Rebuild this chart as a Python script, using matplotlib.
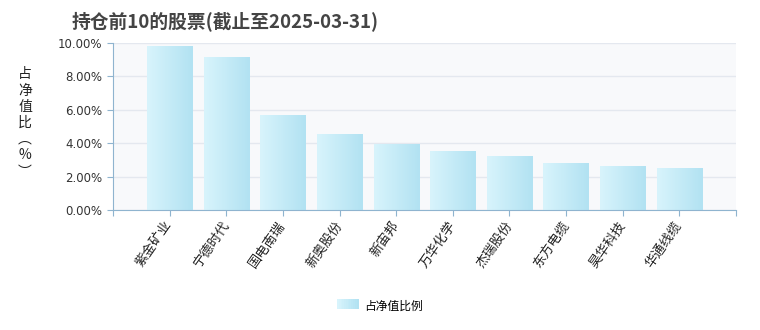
import matplotlib
matplotlib.use('Agg')
import matplotlib.pyplot as plt
import matplotlib.transforms as mtransforms
import numpy as np
from matplotlib.colors import LinearSegmentedColormap
from matplotlib.patches import Rectangle
from matplotlib.legend_handler import HandlerBase

plt.rcParams['font.family'] = ['Noto Sans CJK SC', 'DejaVu Sans']

# ------ data ------
stocks = ['紫金矿业', '宁德时代', '国电南瑞', '新奥股份', '新宙邦',
          '万华化学', '杰瑞股份', '东方电缆', '昊华科技', '华通线缆']
ratio = [9.82, 9.16, 5.63, 4.55, 3.95, 3.53, 3.23, 2.81, 2.63, 2.51]

grad = LinearSegmentedColormap.from_list('g', ['#d8f4fc', '#b2e2f2'])
axis_col = '#8fb4cf'

fig = plt.figure(figsize=(7.6, 3.3), dpi=100)
ax = fig.add_axes([113/760, 1 - 210/330, 623/760, 167/330])
ax.set_facecolor('#f8f9fb')

x = np.arange(len(stocks))
bars = ax.bar(x, ratio, width=0.8, color='none', edgecolor='none')
g = np.linspace(0, 1, 64).reshape(1, -1)
for b in bars:
    x0, w, h = b.get_x(), b.get_width(), b.get_height()
    ax.imshow(g, cmap=grad, aspect='auto', extent=[x0, x0 + w, 0, h],
              zorder=2, interpolation='bilinear')

ax.set_xlim(-1, len(stocks))
ax.set_ylim(0, 10)
ax.set_yticks(np.arange(0, 10.1, 2))
ax.set_yticklabels([f'{v:.2f}%' for v in np.arange(0, 10.1, 2)], fontsize=8.5,
                   family=['DejaVu Sans'], color='#333333')
ax.grid(axis='y', color='#e4e8ef', lw=1)
ax.set_axisbelow(True)

# ticks at every category centre plus both ends
ax.set_xticks(np.arange(-1, len(stocks) + 1))
ax.set_xticklabels([''] + stocks + [''], rotation=55, ha='right', va='center',
                   rotation_mode='anchor', fontsize=9.5, color='#222222')
shift = mtransforms.ScaledTranslation(4/100, -1/100, fig.dpi_scale_trans)
for lab in ax.get_xticklabels():
    lab.set_transform(lab.get_transform() + shift)

for sp in ['top', 'right']:
    ax.spines[sp].set_visible(False)
ax.spines['left'].set_color(axis_col)
ax.spines['bottom'].set_color(axis_col)
ax.tick_params(axis='both', color=axis_col, length=4)
ax.tick_params(axis='x', pad=5)

fig.text(25/760, 1 - 123/330, '占\n净\n值\n比\n︵\n%\n︶', ha='center', va='center',
         fontsize=10, linespacing=1.2, color='#222222')
fig.text(72/760, 1 - 21/330, '持仓前10的股票(截止至2025-03-31)', ha='left', va='center',
         fontsize=13.5, fontweight='bold', color='#444444')


class GradHandler(HandlerBase):
    def create_artists(self, legend, orig, xd, yd, w, h, fontsize, trans):
        arts = []
        n = 12
        for k in range(n):
            r = Rectangle((xd + w * k / n, yd), w / n + 0.3, h,
                          color=grad(k / (n - 1)), transform=trans, lw=0)
            arts.append(r)
        return arts


leg = fig.legend([Rectangle((0, 0), 1, 1)], ['占净值比例'], loc='center',
                 bbox_to_anchor=(0.5, 1 - 306/330), frameon=False, fontsize=8.5,
                 handler_map={Rectangle: GradHandler()}, handlelength=1.8,
                 handleheight=0.9, handletextpad=0.5)

fig.savefig('out.png', dpi=100)
